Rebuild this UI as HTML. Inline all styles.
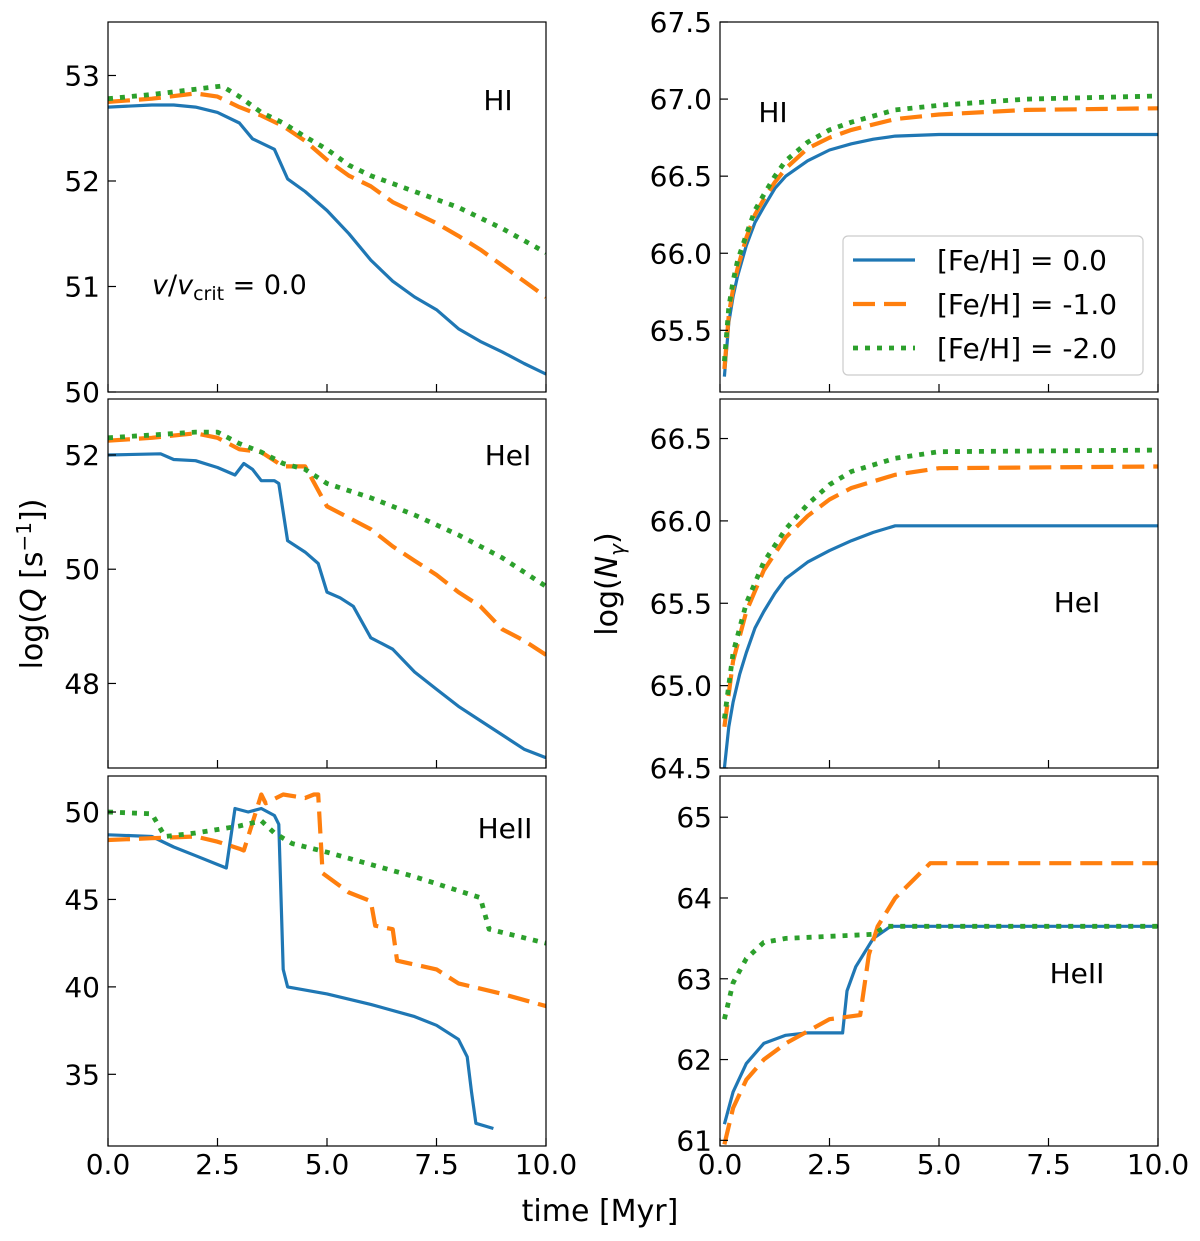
<!DOCTYPE html>
<html><head><meta charset="utf-8"><style>
body{margin:0;background:#fff}
svg{display:block;font-family:"DejaVu Sans","Liberation Sans",sans-serif}
</style></head><body>
<svg id="fig" width="1200" height="1241" viewBox="0 0 1200 1241"></svg>
<script>
const times = [0,2.5,5,7.5,10];
const timeLabels = ["0.0","2.5","5.0","7.5","10.0"];
const metallicities = ["[Fe/H] = 0.0","[Fe/H] = -1.0","[Fe/H] = -2.0"];
// Q HI
const qHI_t0 = [0,1,1.5,2,2.5,3,3.3,3.8,4.1,4.5,5,5.5,6,6.5,7,7.5,8,8.5,9,9.5,10];
const qHI_v0 = [52.7,52.72,52.72,52.7,52.65,52.55,52.4,52.3,52.02,51.9,51.72,51.5,51.25,51.05,50.9,50.78,50.6,50.48,50.38,50.27,50.17];
const qHI_t1 = [0,1,2,2.5,3,3.5,4,4.5,5,5.5,6,6.5,7,7.5,8,8.5,9,9.5,10];
const qHI_v1 = [52.75,52.78,52.83,52.8,52.7,52.62,52.52,52.38,52.2,52.05,51.95,51.8,51.7,51.6,51.48,51.35,51.2,51.05,50.9];
const qHI_t2 = [0,1,2,2.6,3,3.5,4,4.5,5,5.5,6,7,8,9,10];
const qHI_v2 = [52.78,52.82,52.87,52.9,52.8,52.65,52.55,52.42,52.3,52.15,52.05,51.9,51.75,51.55,51.32];
// Q HeI
const qHeI_t0 = [0,1.2,1.5,2,2.5,2.9,3.1,3.3,3.5,3.8,3.9,4.1,4.5,4.8,5,5.3,5.6,6,6.5,7,7.5,8,8.5,9,9.5,10];
const qHeI_v0 = [52.0,52.02,51.92,51.9,51.78,51.65,51.85,51.75,51.55,51.55,51.5,50.5,50.3,50.1,49.6,49.5,49.35,48.8,48.6,48.2,47.9,47.6,47.35,47.1,46.85,46.7];
const qHeI_t1 = [0,1,2,2.5,3,3.5,4,4.5,5,5.5,6,6.5,7,7.5,8,8.5,9,9.5,10];
const qHeI_v1 = [52.25,52.3,52.38,52.3,52.1,52.05,51.8,51.8,51.1,50.9,50.7,50.4,50.15,49.9,49.6,49.35,48.95,48.75,48.5];
const qHeI_t2 = [0,1,2,2.5,3,3.5,4,4.5,5,6,7,8,9,10];
const qHeI_v2 = [52.3,52.35,52.4,52.4,52.2,52.05,51.85,51.75,51.5,51.25,50.95,50.6,50.2,49.7];
// Q HeII
const qHeII_t0 = [0,1,1.5,2,2.5,2.7,2.9,3.2,3.5,3.8,3.9,4.0,4.1,5,6,7,7.5,8,8.2,8.3,8.4,8.8];
const qHeII_v0 = [48.7,48.6,48.0,47.5,47.0,46.8,50.2,50.0,50.2,49.8,49.3,41,40.0,39.6,39.0,38.3,37.8,37,36,34,32.2,31.9];
const qHeII_t1 = [0,1,2,2.5,3,3.1,3.5,3.6,4,4.5,4.7,4.8,4.9,5.5,6,6.1,6.5,6.6,7.5,8,9,10];
const qHeII_v1 = [48.4,48.5,48.6,48.3,47.9,47.8,51.0,50.5,51,50.8,51,51,46.5,45.4,44.9,43.5,43.3,41.5,41.0,40.2,39.6,38.9];
const qHeII_t2 = [0,1,1.3,2,3,3.5,3.8,4.2,5,6,7,8,8.5,8.7,10];
const qHeII_v2 = [50.0,49.9,48.6,48.8,49.2,49.5,48.8,48.2,47.7,47.0,46.3,45.5,45.1,43.3,42.5];
// N HI
const nHI_t0 = [0.1,0.2,0.3,0.4,0.6,0.8,1,1.25,1.5,2,2.5,3,3.5,4,5,10];
const nHI_v0 = [65.2,65.55,65.72,65.85,66.05,66.2,66.3,66.42,66.5,66.6,66.67,66.71,66.74,66.76,66.77,66.77];
const nHI_t1 = [0.1,0.2,0.3,0.4,0.6,0.8,1,1.25,1.5,2,2.5,3,4,5,7,10];
const nHI_v1 = [65.25,65.6,65.77,65.9,66.1,66.25,66.35,66.46,66.55,66.68,66.75,66.8,66.87,66.9,66.93,66.94];
const nHI_t2 = [0.1,0.2,0.3,0.4,0.6,0.8,1,1.25,1.5,2,2.5,3,4,5,7,10];
const nHI_v2 = [65.3,65.65,65.82,65.95,66.12,66.28,66.38,66.5,66.6,66.72,66.8,66.85,66.93,66.96,67.0,67.02];
// N HeI
const nHeI_t0 = [0.1,0.2,0.3,0.45,0.6,0.8,1,1.25,1.5,2,2.5,3,3.5,4,10];
const nHeI_v0 = [64.5,64.75,64.9,65.07,65.2,65.35,65.45,65.56,65.65,65.75,65.82,65.88,65.93,65.97,65.97];
const nHeI_t1 = [0.1,0.3,0.6,1,1.5,2,2.5,3,4,5,10];
const nHeI_v1 = [64.75,65.15,65.45,65.7,65.9,66.03,66.13,66.2,66.28,66.32,66.33];
const nHeI_t2 = [0.1,0.3,0.6,1,1.5,2,2.5,3,4,5,10];
const nHeI_v2 = [64.8,65.2,65.5,65.75,65.95,66.1,66.22,66.3,66.38,66.42,66.43];
// N HeII
const nHeII_t0 = [0.1,0.3,0.6,1,1.5,2,2.8,2.9,3.1,3.5,3.9,10];
const nHeII_v0 = [61.2,61.6,61.95,62.2,62.3,62.33,62.33,62.85,63.15,63.5,63.65,63.65];
const nHeII_t1 = [0.1,0.3,0.6,1,1.5,2,2.5,3.2,3.4,3.6,4,4.8,10];
const nHeII_v1 = [60.95,61.4,61.75,62.0,62.2,62.35,62.5,62.55,63.3,63.65,64.0,64.43,64.43];
const nHeII_t2 = [0.1,0.3,0.6,1,1.5,3.5,3.8,10];
const nHeII_v2 = [62.5,62.95,63.25,63.45,63.5,63.55,63.65,63.65];

const ticksA = [50,51,52,53], ticksALab = ["50","51","52","53"];
const ticksB = [48,50,52], ticksBLab = ["48","50","52"];
const ticksC = [35,40,45,50], ticksCLab = ["35","40","45","50"];
const ticksD = [65.5,66,66.5,67,67.5], ticksDLab = ["65.5","66.0","66.5","67.0","67.5"];
const ticksE = [64.5,65,65.5,66,66.5], ticksELab = ["64.5","65.0","65.5","66.0","66.5"];
const ticksF = [61,62,63,64,65], ticksFLab = ["61","62","63","64","65"];

const NS="http://www.w3.org/2000/svg";
const svg=document.getElementById('fig');
function el(tag,attrs,parent){const e=document.createElementNS(NS,tag);for(const k in attrs)e.setAttribute(k,attrs[k]);(parent||svg).appendChild(e);return e;}
const colors=["#1f77b4","#ff7f0e","#2ca02c"];
const dashes=["none","22,9","5,7"];
const widths=[3.2,4.2,4.8];

function panel(name,x0,x1,y0,y1,ymin,ymax,ticks,tlabs,series,label,lx,ly,showX){
  const g=el('g',{});
  
  
  const sx=t=>x0+(t-0)/(10-0)*(x1-x0);
  const sy=v=>y1-(v-ymin)/(ymax-ymin)*(y1-y0);
  const cp=el('clipPath',{id:'c'+name},g);el('rect',{x:x0,y:y0,width:x1-x0,height:y1-y0},cp);
  series.forEach((s,i)=>{
    const d=s[0].map((t,j)=>(j?'L':'M')+sx(t).toFixed(1)+','+sy(s[1][j]).toFixed(1)).join('');
    const p=el('path',{d:d,fill:'none',stroke:colors[i],'stroke-width':widths[i],'stroke-dasharray':dashes[i],'stroke-linejoin':'round','clip-path':'url(#c'+name+')'},g);
    
    
  });
  const fr=el('rect',{x:x0,y:y0,width:x1-x0,height:y1-y0,fill:'none',stroke:'#000','stroke-width':1.2},g);
  
  
  ticks.forEach((v,i)=>{
    const y=sy(v);
    el('line',{x1:x0,x2:x0+8,y1:y,y2:y,stroke:'#000','stroke-width':1.2},g);
    const t=el('text',{x:x0-8,y:y+10,'text-anchor':'end','font-size':28},g);t.textContent=tlabs[i];
    
    
  });
  times.forEach((v,i)=>{
    const x=sx(v);
    el('line',{x1:x,x2:x,y1:y1,y2:y1-8,stroke:'#000','stroke-width':1.2},g);
    if(showX){const t=el('text',{x:x,y:y1+28,'text-anchor':'middle','font-size':28},g);t.textContent=timeLabels[i];
      
      }
  });
  const lt=el('text',{x:lx,y:ly,'font-size':28,'text-anchor':'middle'},g);lt.textContent=label;
  
  
}
const L=[108,546],R=[720,1158];
panel('q-hi-panel',L[0],L[1],22,392,50,53.507,ticksA,ticksALab,[[qHI_t0,qHI_v0],[qHI_t1,qHI_v1],[qHI_t2,qHI_v2]],'HI',498,110,false);
panel('q-hei-panel',L[0],L[1],399,768,46.52,52.98,ticksB,ticksBLab,[[qHeI_t0,qHeI_v0],[qHeI_t1,qHeI_v1],[qHeI_t2,qHeI_v2]],'HeI',508,465,false);
panel('q-heii-panel',L[0],L[1],776,1146,30.9,52.06,ticksC,ticksCLab,[[qHeII_t0,qHeII_v0],[qHeII_t1,qHeII_v1],[qHeII_t2,qHeII_v2]],'HeII',505,838,true);
panel('n-hi-panel',R[0],R[1],22,392,65.1,67.5,ticksD,ticksDLab,[[nHI_t0,nHI_v0],[nHI_t1,nHI_v1],[nHI_t2,nHI_v2]],'HI',773,122,false);
panel('n-hei-panel',R[0],R[1],399,768,64.5,66.74,ticksE,ticksELab,[[nHeI_t0,nHeI_v0],[nHeI_t1,nHeI_v1],[nHeI_t2,nHeI_v2]],'HeI',1077,612,false);
panel('n-heii-panel',R[0],R[1],776,1146,60.93,65.51,ticksF,ticksFLab,[[nHeII_t0,nHeII_v0],[nHeII_t1,nHeII_v1],[nHeII_t2,nHeII_v2]],'HeII',1077,983,true);

const an=el('text',{x:152,y:294,'font-size':27});


an.innerHTML='<tspan font-style="italic">v</tspan>/<tspan font-style="italic">v</tspan><tspan font-size="19" dy="6">crit</tspan><tspan dy="-6"> = 0.0</tspan>';

const lg=el('g',{});


el('rect',{x:843,y:236,width:300,height:139,rx:5,fill:'#fff',stroke:'#ccc','stroke-width':1.2},lg);
metallicities.forEach((m,i)=>{
  const y=260+i*44;
  const ln=el('line',{x1:853,x2:915,y1:y,y2:y,stroke:colors[i],'stroke-width':widths[i],'stroke-dasharray':dashes[i]},lg);
  
  
  const t=el('text',{x:937,y:y+10,'font-size':28},lg);t.textContent=m;
  
  
});

const yl=el('text',{x:0,y:0,'font-size':30,'text-anchor':'middle',transform:'translate(42,584) rotate(-90)'});


yl.innerHTML='log(<tspan font-style="italic">Q</tspan> [s<tspan font-size="20" dy="-11">−1</tspan><tspan dy="11">])</tspan>';
const yr=el('text',{x:0,y:0,'font-size':30,'text-anchor':'middle',transform:'translate(617,584) rotate(-90)'});


yr.innerHTML='log(<tspan font-style="italic">N</tspan><tspan font-size="20" dy="7" font-style="italic">γ</tspan><tspan dy="-7">)</tspan>';
const xl=el('text',{x:600,y:1221,'font-size':30,'text-anchor':'middle'});


xl.textContent='time [Myr]';
</script>
</body></html>
